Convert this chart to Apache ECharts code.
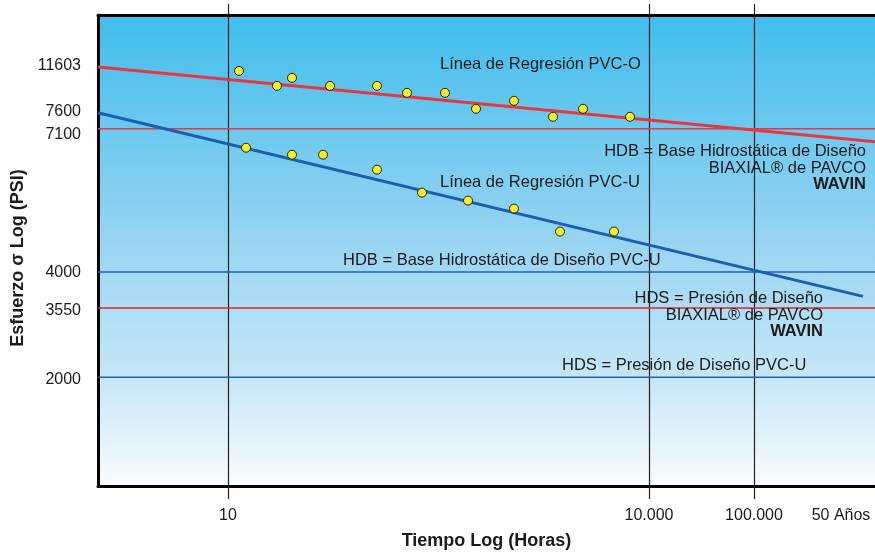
<!DOCTYPE html>
<html lang="es">
<head>
    <meta charset="UTF-8">
    <title>Regresión PVC-O / PVC-U</title>
    <script type="text/javascript" src="https://cdn.jsdelivr.net/npm/echarts@6/dist/echarts.min.js"></script>
    <style>
        html, body { margin: 0; padding: 0; background: #fff; }
        #Echart1 { width: 875px; height: 555px; }
    </style>
</head>
<body>
<div id="Echart1"></div>

<script>
    // escala esquemática: posiciones en unidades del eje (no es un log real)
    var xLinePos = [130, 551, 656];               // 10, 10.000, 100.000
    var xLabels = ['10', '10.000', '100.000', '50 Años'];
    var xLabelPos = [130, 551, 656, 743];

    var yLabels = ['11603', '7600', '7100', '4000', '3550', '2000'];
    var yLabelPos = [421, 375, 352, 214, 176, 107];

    // puntos de ensayo
    var pvcOx = [141, 179, 194, 232, 279, 309, 347, 378, 416, 455, 485, 532];
    var pvcOy = [416, 401, 409, 401, 401, 394, 394, 378, 386, 370, 378, 370];
    var pvcUx = [148, 194, 225, 279, 324, 370, 416, 462, 516];
    var pvcUy = [339, 332, 332, 317, 294, 286, 278, 255, 255];

    // líneas de regresión (extremos)
    var regOx = [0, 777], regOy = [420, 345];
    var regUx = [0, 765], regUy = [374, 190];

    // niveles HDB / HDS
    var levelNames = ['HDB PVC-O', 'HDB PVC-U', 'HDS PVC-O', 'HDS PVC-U'];
    var levelPos = [358, 214.5, 178.5, 109];
    var levelColors = ['#d2404a', '#1e62b2', '#e8222c', '#1e62b2'];

    function zip(xs, ys) {
        var out = [];
        for (var i = 0; i < xs.length; i++) out.push([xs[i], ys[i]]);
        return out;
    }

    var myChart = echarts.init(document.getElementById('Echart1'));
    var txt = '#1b1b1b';
    var font = '16.5px "Liberation Sans", Arial, sans-serif';
    var fontB = 'bold 16.5px "Liberation Sans", Arial, sans-serif';

    var series = [];
    for (var k = 0; k < levelPos.length; k++) {
        series.push({
            name: levelNames[k],
            type: 'line',
            showSymbol: false,
            silent: true,
            z: 2,
            lineStyle: { color: levelColors[k], width: 1.5 },
            data: [[0, levelPos[k]], [777, levelPos[k]]]
        });
    }
    series.push({
        name: 'Regresión PVC-O', type: 'line', showSymbol: false, z: 3,
        lineStyle: { color: '#e8363f', width: 3 },
        data: zip(regOx, regOy)
    });
    series.push({
        name: 'Regresión PVC-U', type: 'line', showSymbol: false, z: 3,
        lineStyle: { color: '#1d5eae', width: 3 },
        data: zip(regUx, regUy)
    });
    var dot = { color: '#f8ee22', borderColor: '#222', borderWidth: 1, opacity: 1 };
    series.push({
        name: 'PVC-O', type: 'scatter', symbolSize: 9, z: 5,
        itemStyle: dot,
        data: zip(pvcOx, pvcOy)
    });
    series.push({
        name: 'PVC-U', type: 'scatter', symbolSize: 9, z: 5,
        itemStyle: dot,
        data: zip(pvcUx, pvcUy)
    });

    function label(text, x, y, align, f) {
        return {
            type: 'text', z: 100, silent: true,
            style: { text: text, x: x, y: y, fill: txt, font: f || font, align: align, verticalAlign: 'middle' }
        };
    }

    var option = {
        backgroundColor: '#fff',
        animation: false,
        grid: {
            left: 98, top: 15, right: 0, bottom: 68,
            show: true, borderWidth: 0,
            backgroundColor: {
                type: 'linear', x: 0, y: 0, x2: 0, y2: 1,
                colorStops: [
                    { offset: 0, color: '#40bdec' },
                    { offset: 0.5, color: '#9bd5f2' },
                    { offset: 0.77, color: '#c6e6f7' },
                    { offset: 1, color: '#f9fcfe' }
                ]
            }
        },
        xAxis: [{
            type: 'value', min: 0, max: 777, position: 'bottom',
            name: 'Tiempo Log (Horas)', nameLocation: 'middle', nameGap: 46,
            nameTextStyle: { color: txt, fontSize: 18, fontWeight: 'bold', fontFamily: 'Liberation Sans' },
            axisLine: { show: true, lineStyle: { color: '#000', width: 3 } },
            axisTick: { show: true, customValues: xLinePos, length: 13, lineStyle: { color: '#222', width: 1.2 } },
            axisLabel: {
                customValues: xLabelPos, margin: 22, color: txt, fontSize: 16, fontFamily: 'Liberation Sans',
                formatter: function (v) { return xLabels[xLabelPos.indexOf(v)]; }
            },
            splitLine: { show: true, lineStyle: { color: '#222', width: 1.2 } }
        }, {
            type: 'value', min: 0, max: 777, position: 'top',
            axisLine: { show: true, lineStyle: { color: '#000', width: 3 } },
            axisTick: { show: true, customValues: xLinePos, length: 11, lineStyle: { color: '#222', width: 1.2 } },
            axisLabel: { show: false },
            splitLine: { show: false }
        }],
        yAxis: {
            type: 'value', min: 0, max: 472,
            axisLine: { show: true, lineStyle: { color: '#000', width: 3 } },
            axisTick: { show: false },
            axisLabel: {
                customValues: yLabelPos, margin: 17, color: txt, fontSize: 16, fontFamily: 'Liberation Sans',
                formatter: function (v) { return yLabels[yLabelPos.indexOf(v)]; }
            },
            splitLine: { show: false }
        },
        graphic: [
            {
                type: 'text', z: 100, silent: true, x: 18, y: 258, rotation: Math.PI / 2,
                style: {
                    text: 'Esfuerzo σ Log (PSI)', fill: txt, align: 'center', verticalAlign: 'middle',
                    font: 'bold 18px "Liberation Sans", Arial, sans-serif'
                }
            },
            label('Línea de Regresión PVC-O', 440, 64, 'left'),
            label('Línea de Regresión PVC-U', 440, 182, 'left'),
            label('HDB = Base Hidrostática de Diseño', 866, 151, 'right'),
            label('BIAXIAL® de PAVCO', 866, 168, 'right'),
            label('WAVIN', 866, 184, 'right', fontB),
            label('HDB = Base Hidrostática de Diseño PVC-U', 343, 260, 'left'),
            label('HDS = Presión de Diseño', 823, 298, 'right'),
            label('BIAXIAL® de PAVCO', 823, 315, 'right'),
            label('WAVIN', 823, 331, 'right', fontB),
            label('HDS = Presión de Diseño PVC-U', 562, 365, 'left')
        ],
        series: series
    };
    myChart.setOption(option);
</script>
</body>
</html>
